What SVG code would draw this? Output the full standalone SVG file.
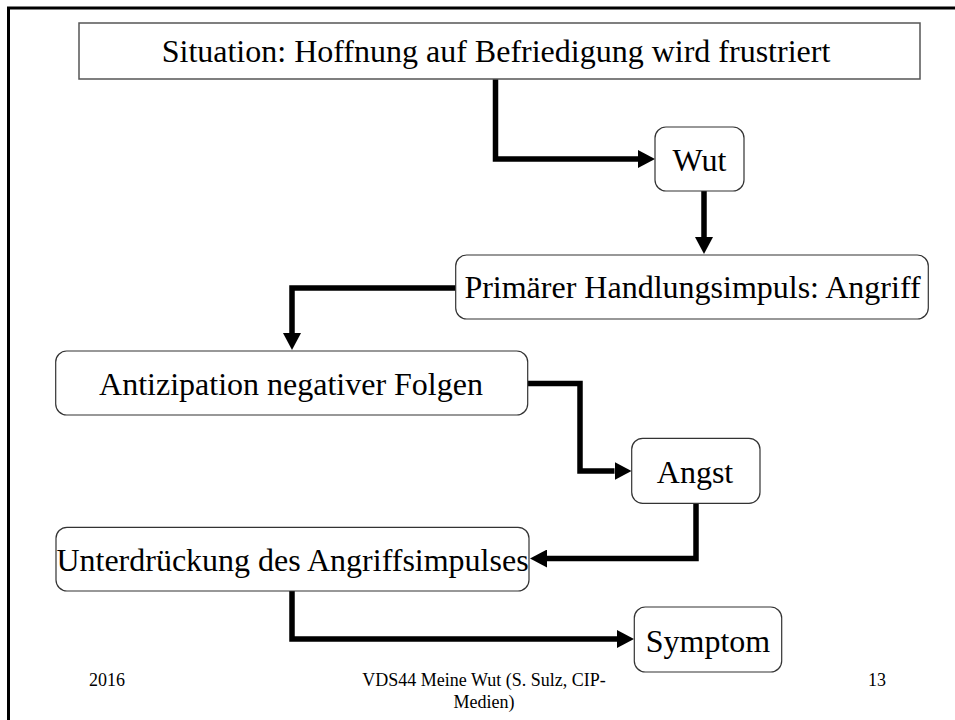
<svg xmlns="http://www.w3.org/2000/svg" width="955" height="720" viewBox="0 0 955 720">
<style>
.box{fill:#fff;stroke:#333;stroke-width:1.2}
.sq{fill:#fff;stroke:#555;stroke-width:1.5}
.t{font-family:"Liberation Serif","Times New Roman",serif;font-size:32px;fill:#000;text-anchor:middle}
.f{font-family:"Liberation Serif","Times New Roman",serif;font-size:18px;fill:#000}
.c{fill:none;stroke:#000;stroke-width:5.5;stroke-linejoin:miter}
</style>
<defs>
<marker id="ah" markerUnits="userSpaceOnUse" markerWidth="18" markerHeight="18" refX="0" refY="9" orient="auto">
<path d="M0,0 L17,9 L0,18 z" fill="#000"/>
</marker>
</defs>
<rect width="955" height="720" fill="#fff"/>
<path d="M8.5,720 V8 H955" fill="none" stroke="#000" stroke-width="3"/>
<g id="connectors">
<path class="c" d="M495.5,71 V159 H638" marker-end="url(#ah)"/>
<path class="c" d="M704,191 V237" marker-end="url(#ah)"/>
<path class="c" d="M455.7,288 H292 V333" marker-end="url(#ah)"/>
<path class="c" d="M527.7,383.5 H580 V471 H614.5" marker-end="url(#ah)"/>
<path class="c" d="M696,503.3 V558.5 H547" marker-end="url(#ah)"/>
<path class="c" d="M292,591 V639 H617" marker-end="url(#ah)"/>
</g>
<g id="situation">
<rect class="sq" x="79" y="23" width="841" height="56"/>
<text class="t" x="496" y="62">Situation: Hoffnung auf Befriedigung wird frustriert</text>
</g>
<g id="wut">
<rect class="box" x="655" y="127" width="89" height="64" rx="11"/>
<text class="t" x="699.5" y="171">Wut</text>
</g>
<g id="primaer">
<rect class="box" x="455.7" y="255" width="472.6" height="64" rx="11"/>
<text class="t" x="692.5" y="298">Primärer Handlungsimpuls: Angriff</text>
</g>
<g id="antizipation">
<rect class="box" x="55.7" y="351" width="472" height="64" rx="11"/>
<text class="t" x="291" y="395">Antizipation negativer Folgen</text>
</g>
<g id="angst">
<rect class="box" x="631.7" y="438.3" width="128.3" height="65" rx="11"/>
<text class="t" x="695" y="483">Angst</text>
</g>
<g id="unterdrueckung">
<rect class="box" x="56" y="527.3" width="473" height="63.7" rx="11"/>
<text class="t" x="292.5" y="571">Unterdrückung des Angriffsimpulses</text>
</g>
<g id="symptom">
<rect class="box" x="634.3" y="607" width="147.4" height="65" rx="11"/>
<text class="t" x="708" y="651.5">Symptom</text>
</g>
<g id="footer">
<text class="f" x="89" y="686">2016</text>
<text class="f" x="484" y="686" text-anchor="middle">VDS44 Meine Wut (S. Sulz, CIP-</text>
<text class="f" x="484" y="708" text-anchor="middle">Medien)</text>
<text class="f" x="868" y="686">13</text>
</g>
</svg>
